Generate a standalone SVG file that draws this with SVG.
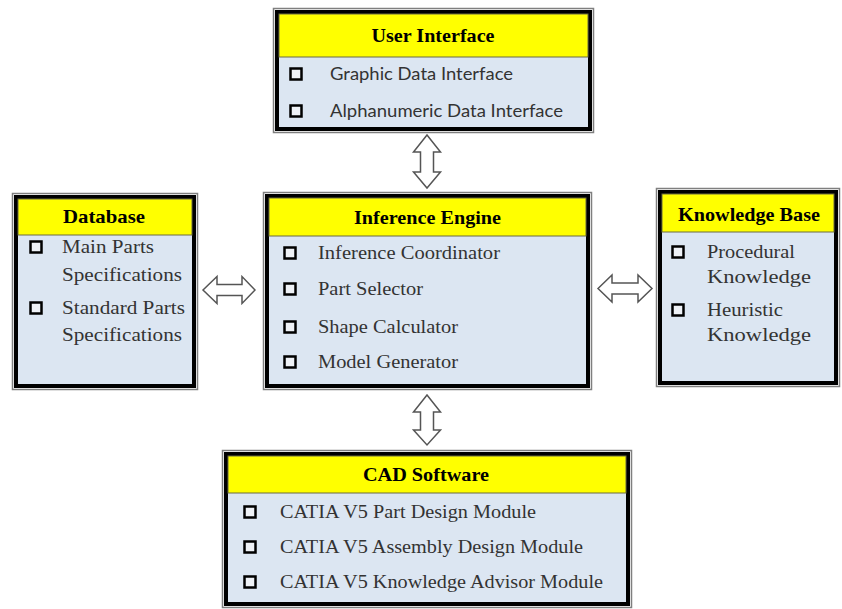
<svg xmlns="http://www.w3.org/2000/svg" width="842" height="609" viewBox="0 0 842 609">
<style>
.outer{fill:none;stroke:#7f7f7f;stroke-width:1.5}
.inner{fill:#dce6f2;stroke:#000;stroke-width:4}
.head{fill:#ffff00;stroke:#6b6b40;stroke-width:1}
.title{font-family:"Liberation Serif","Times New Roman",serif;font-weight:bold;font-size:19px;fill:#000;text-anchor:middle}
.item{font-family:"Liberation Serif","Times New Roman",serif;font-size:19px;fill:#333}
.sans{font-family:Lato,"Open Sans",sans-serif;font-size:18px;fill:#333}
.cb{fill:#eef1f6;stroke:#000;stroke-width:2.5}
.arrow{fill:#fff;stroke:#555;stroke-width:1.5;stroke-linejoin:miter}
</style>
<rect x="0" y="0" width="842" height="609" fill="#fff"/>

<g id="connectors">
<path class="arrow" d="M427,135 L440.5,152 L433.5,152 L433.5,172 L440.5,172 L427,188 L413.5,172 L420.5,172 L420.5,152 L413.5,152 Z"/>
<path class="arrow" d="M427,395 L440.5,412 L433.5,412 L433.5,430 L440.5,430 L427,445 L413.5,430 L420.5,430 L420.5,412 L413.5,412 Z"/>
<path class="arrow" d="M203,290 L217,276.5 L217,284.5 L242,284.5 L242,276.5 L255,290 L242,303.5 L242,295.5 L217,295.5 L217,303.5 Z"/>
<path class="arrow" d="M598,288.5 L612,275 L612,283 L638,283 L638,275 L652,288.5 L638,302 L638,294 L612,294 L612,302 Z"/>
</g>

<g id="user-interface">
<rect class="outer" x="273.5" y="8.5" width="320" height="124"/>
<rect class="inner" x="277" y="12" width="313" height="117"/>
<rect class="head" x="279" y="14" width="309" height="43"/>
<text class="title" x="433" y="42" textLength="123" lengthAdjust="spacingAndGlyphs">User Interface</text>
<rect class="cb" x="290.5" y="68.5" width="11" height="11"/>
<text class="sans" x="330" y="80" textLength="183" lengthAdjust="spacingAndGlyphs">Graphic Data Interface</text>
<rect class="cb" x="290.5" y="105.5" width="11" height="11"/>
<text class="sans" x="330" y="117" textLength="233" lengthAdjust="spacingAndGlyphs">Alphanumeric Data Interface</text>
</g>

<g id="inference-engine">
<rect class="outer" x="263.5" y="192.5" width="328" height="197"/>
<rect class="inner" x="267" y="196" width="321" height="190"/>
<rect class="head" x="269" y="198" width="317" height="38"/>
<text class="title" x="427.5" y="224" textLength="147" lengthAdjust="spacingAndGlyphs">Inference Engine</text>
<rect class="cb" x="284.5" y="247.5" width="11" height="11"/>
<text class="item" x="318" y="259" textLength="182" lengthAdjust="spacingAndGlyphs">Inference Coordinator</text>
<rect class="cb" x="284.5" y="283.5" width="11" height="11"/>
<text class="item" x="318" y="295" textLength="105" lengthAdjust="spacingAndGlyphs">Part Selector</text>
<rect class="cb" x="284.5" y="321.5" width="11" height="11"/>
<text class="item" x="318" y="333" textLength="140" lengthAdjust="spacingAndGlyphs">Shape Calculator</text>
<rect class="cb" x="284.5" y="356.5" width="11" height="11"/>
<text class="item" x="318" y="368" textLength="140" lengthAdjust="spacingAndGlyphs">Model Generator</text>
</g>

<g id="database">
<rect class="outer" x="12.5" y="193.5" width="185" height="196"/>
<rect class="inner" x="16" y="197" width="178" height="189"/>
<rect class="head" x="18" y="199" width="174" height="36"/>
<text class="title" x="104" y="223" textLength="82" lengthAdjust="spacingAndGlyphs">Database</text>
<rect class="cb" x="30.5" y="241.5" width="11" height="11"/>
<text class="item" x="62" y="253" textLength="92" lengthAdjust="spacingAndGlyphs">Main Parts</text>
<text class="item" x="62" y="281" textLength="120" lengthAdjust="spacingAndGlyphs">Specifications</text>
<rect class="cb" x="30.5" y="302.5" width="11" height="11"/>
<text class="item" x="62" y="314" textLength="123" lengthAdjust="spacingAndGlyphs">Standard Parts</text>
<text class="item" x="62" y="341" textLength="120" lengthAdjust="spacingAndGlyphs">Specifications</text>
</g>

<g id="knowledge-base">
<rect class="outer" x="656.5" y="188.5" width="183" height="198"/>
<rect class="inner" x="660" y="192" width="176" height="191"/>
<rect class="head" x="662" y="194" width="172" height="38"/>
<text class="title" x="749" y="221" textLength="142" lengthAdjust="spacingAndGlyphs">Knowledge Base</text>
<rect class="cb" x="672.5" y="246.5" width="11" height="11"/>
<text class="item" x="707" y="258" textLength="88" lengthAdjust="spacingAndGlyphs">Procedural</text>
<text class="item" x="707" y="283" textLength="104" lengthAdjust="spacingAndGlyphs">Knowledge</text>
<rect class="cb" x="672.5" y="304.5" width="11" height="11"/>
<text class="item" x="707" y="316" textLength="76" lengthAdjust="spacingAndGlyphs">Heuristic</text>
<text class="item" x="707" y="341" textLength="104" lengthAdjust="spacingAndGlyphs">Knowledge</text>
</g>

<g id="cad-software">
<rect class="outer" x="222.5" y="450.5" width="409" height="157"/>
<rect class="inner" x="226" y="454" width="402" height="150"/>
<rect class="head" x="228" y="456" width="398" height="37"/>
<text class="title" x="426" y="481" textLength="126" lengthAdjust="spacingAndGlyphs">CAD Software</text>
<rect class="cb" x="244.5" y="506.5" width="11" height="11"/>
<text class="item" x="280" y="518" textLength="256" lengthAdjust="spacingAndGlyphs">CATIA V5 Part Design Module</text>
<rect class="cb" x="244.5" y="541.5" width="11" height="11"/>
<text class="item" x="280" y="553" textLength="303" lengthAdjust="spacingAndGlyphs">CATIA V5 Assembly Design Module</text>
<rect class="cb" x="244.5" y="576.5" width="11" height="11"/>
<text class="item" x="280" y="588" textLength="323" lengthAdjust="spacingAndGlyphs">CATIA V5 Knowledge Advisor Module</text>
</g>
</svg>
